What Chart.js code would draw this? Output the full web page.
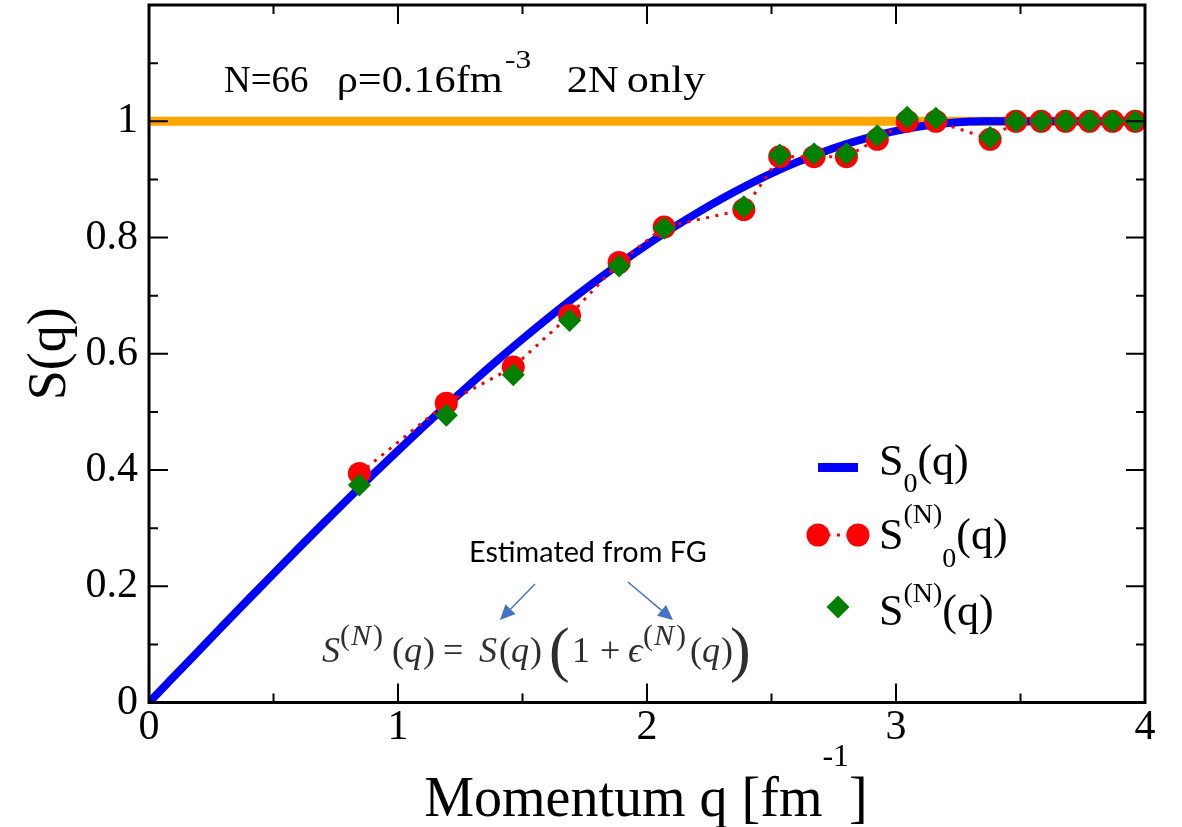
<!DOCTYPE html>
<html><head><meta charset="utf-8">
<script src="https://cdn.jsdelivr.net/npm/chart.js@4.4.1/dist/chart.umd.min.js"></script>
<style>html,body{margin:0;padding:0;background:#fff;}canvas{display:block}</style>
</head><body>
<canvas id="c" width="1182" height="827"></canvas>
<script>
// ---- data ----
const xTicks = [0, 1, 2, 3, 4];
const xTickLabels = ['0', '1', '2', '3', '4'];
const yTicks = [0, 0.2, 0.4, 0.6, 0.8, 1];
const yTickLabels = ['0', '0.2', '0.4', '0.6', '0.8', '1'];

// S0(q) continuous curve
const qCurve = [0, 0.1, 0.2, 0.3, 0.4, 0.5, 0.6, 0.7, 0.8, 0.9, 1.0, 1.1, 1.2, 1.3, 1.4, 1.5, 1.6, 1.7, 1.8, 1.9, 2.0,
  2.1, 2.2, 2.3, 2.4, 2.5, 2.6, 2.7, 2.8, 2.9, 3.0, 3.1, 3.2, 3.3, 3.36, 4.0];
const s0Curve = [0, 0.0446, 0.0892, 0.1336, 0.1778, 0.2216, 0.2651, 0.3081, 0.3505, 0.3923, 0.4334, 0.4737, 0.5131,
  0.5516, 0.5890, 0.6253, 0.6605, 0.6943, 0.7269, 0.7580, 0.7876, 0.8156, 0.8420, 0.8666, 0.8894, 0.9103, 0.9292,
  0.9460, 0.9608, 0.9733, 0.9835, 0.9913, 0.9967, 0.9996, 1.0, 1.0];

// discrete momenta
const qN = [0.845, 1.194, 1.463, 1.689, 1.888, 2.069, 2.389, 2.533, 2.671, 2.801, 2.925, 3.045, 3.160, 3.378,
  3.482, 3.583, 3.681, 3.777, 3.870, 3.961];
const s0N = [0.394, 0.515, 0.577, 0.666, 0.757, 0.818, 0.848, 0.939, 0.939, 0.939, 0.969, 1.000, 1.000, 0.969,
  1.000, 1.000, 1.000, 1.000, 1.000, 1.000];
const sN = [0.374, 0.494, 0.564, 0.657, 0.751, 0.816, 0.853, 0.942, 0.944, 0.944, 0.975, 1.007, 1.005, 0.972,
  1.000, 1.000, 1.000, 1.000, 1.000, 1.000];

// reference line S = 1
const refQ = [0, 4];
const refS = [1, 1];

// ---- styles ----
const SERIF = "'Liberation Serif','Times New Roman',serif";
const SERIF_MATH = "'Liberation Serif','DejaVu Serif',serif";
const SANS = "Lato,'Open Sans',sans-serif";
const BLUE = '#0000ff', RED = '#ff0000', GREEN = '#008000', ORANGE = '#ffa500', ARROW = '#4472c4';

function drawRich(ctx, x, y, parts, family) {
  let cx = x;
  for (const p of parts) {
    ctx.font = (p.i ? 'italic ' : '') + p.s + 'px ' + (p.f || family || SERIF);
    ctx.fillText(p.t, cx + (p.dx || 0), y + (p.dy || 0));
    cx += ctx.measureText(p.t).width + (p.dx || 0);
  }
  return cx;
}
function measureRich(ctx, parts, family) {
  let w = 0;
  for (const p of parts) {
    ctx.font = (p.i ? 'italic ' : '') + p.s + 'px ' + (p.f || family || SERIF);
    w += ctx.measureText(p.t).width;
  }
  return w;
}
// draw text stretched horizontally to a target ink width
function fitText(ctx, text, x, y, size, width) {
  ctx.font = size + 'px ' + SERIF;
  const m = ctx.measureText(text);
  const ink = m.actualBoundingBoxRight + m.actualBoundingBoxLeft;
  const sx = width / ink;
  ctx.save();
  ctx.translate(x, y);
  ctx.scale(sx, 1);
  ctx.fillText(text, m.actualBoundingBoxLeft, 0);
  ctx.restore();
}
function arrow(ctx, x1, y1, x2, y2) {
  const ang = Math.atan2(y2 - y1, x2 - x1);
  const L = 15, W = 7;
  const bx = x2 - L * Math.cos(ang), by = y2 - L * Math.sin(ang);
  ctx.beginPath();
  ctx.moveTo(x1, y1); ctx.lineTo(bx, by); ctx.stroke();
  ctx.beginPath();
  ctx.moveTo(x2, y2);
  ctx.lineTo(bx + W * Math.sin(ang), by - W * Math.cos(ang));
  ctx.lineTo(bx - W * Math.sin(ang), by + W * Math.cos(ang));
  ctx.closePath(); ctx.fill();
}

const framePlugin = {
  id: 'frame',
  afterDatasetsDraw(chart) {
    const { ctx, chartArea: a, scales: { x, y } } = chart;
    ctx.save();
    ctx.strokeStyle = '#000';
    ctx.lineWidth = 2;
    ctx.beginPath();
    for (let k = 0; k <= 8; k++) {
      const v = k * 0.5, px = x.getPixelForValue(v), L = (k % 2 === 0) ? 19 : 9;
      ctx.moveTo(px, a.bottom); ctx.lineTo(px, a.bottom - L);
      ctx.moveTo(px, a.top); ctx.lineTo(px, a.top + L);
    }
    for (let k = 0; k <= 12; k++) {
      const v = k * 0.1, py = y.getPixelForValue(v), L = (k % 2 === 0) ? 19 : 9;
      ctx.moveTo(a.left, py); ctx.lineTo(a.left + L, py);
      ctx.moveTo(a.right, py); ctx.lineTo(a.right - L, py);
    }
    ctx.stroke();
    ctx.lineWidth = 3;
    ctx.strokeRect(a.left, a.top, a.right - a.left, a.bottom - a.top);
    ctx.restore();
  }
};

const annotPlugin = {
  id: 'annot',
  afterDraw(chart) {
    const { ctx, chartArea: a } = chart;
    ctx.save();
    ctx.fillStyle = '#000';
    ctx.textBaseline = 'alphabetic';
    ctx.textAlign = 'left';

    // top label
    fitText(ctx, 'N=66', 225, 92, 37, 83);
    fitText(ctx, 'ρ=0.16fm', 339, 92, 37, 164);
    fitText(ctx, '-3', 505, 68, 26, 25);
    fitText(ctx, '2N', 568, 92, 37, 50);
    fitText(ctx, 'only', 628, 92, 37, 78);

    // x axis title with superscript
    const xt = [{ t: 'Momentum q [fm', s: 56 }, { t: '-1', s: 32, dy: -50 }, { t: ']', s: 56 }];
    const w = measureRich(ctx, xt);
    drawRich(ctx, (a.left + a.right) / 2 - w / 2 - 1, 816, xt);

    // legend
    ctx.save();
    ctx.strokeStyle = BLUE; ctx.lineWidth = 9;
    ctx.beginPath(); ctx.moveTo(818, 467.5); ctx.lineTo(858, 467.5); ctx.stroke();
    ctx.strokeStyle = RED; ctx.lineWidth = 3; ctx.setLineDash([3, 6.5]);
    ctx.beginPath(); ctx.moveTo(818, 535); ctx.lineTo(858, 535); ctx.stroke();
    ctx.setLineDash([]);
    ctx.fillStyle = RED;
    ctx.beginPath(); ctx.arc(818, 535, 11.5, 0, Math.PI * 2); ctx.fill();
    ctx.beginPath(); ctx.arc(858, 535, 11.5, 0, Math.PI * 2); ctx.fill();
    ctx.fillStyle = GREEN;
    ctx.beginPath(); ctx.moveTo(838, 595.5); ctx.lineTo(849.5, 607); ctx.lineTo(838, 618.5); ctx.lineTo(826.5, 607); ctx.closePath(); ctx.fill();
    ctx.restore();
    ctx.fillStyle = '#000';
    drawRich(ctx, 879, 475, [{ t: 'S', s: 44 }, { t: '0', s: 28, dy: 17 }, { t: '(q)', s: 44 }]);
    drawRich(ctx, 879, 549, [{ t: 'S', s: 44 }, { t: '(N)', s: 28, dy: -26 }, { t: '0', s: 28, dy: 18 }, { t: '(q)', s: 44 }]);
    drawRich(ctx, 879, 625, [{ t: 'S', s: 44 }, { t: '(N)', s: 28, dy: -23 }, { t: '(q)', s: 44 }]);

    // formula annotation
    ctx.fillStyle = '#000';
    const est = 'Estimated from FG';
    ctx.font = '24px ' + SANS;
    const ew = ctx.measureText(est).width;
    const fs = Math.min(30, 24 * 238 / ew);
    ctx.font = fs.toFixed(1) + 'px ' + SANS;
    ctx.fillText(est, 469, 562);
    ctx.strokeStyle = ARROW; ctx.fillStyle = ARROW; ctx.lineWidth = 1.5;
    arrow(ctx, 535, 584, 500, 620);
    arrow(ctx, 628, 582, 673, 620);

    ctx.fillStyle = '#2e2e2e';
    const F = SERIF_MATH;
    drawRich(ctx, 322, 662, [{ t: 'S', s: 36, i: true }], F);
    drawRich(ctx, 340, 662, [{ t: '(', s: 30, dy: -17 }, { t: 'N', s: 30, i: true, dy: -17, dx: 1 }, { t: ')', s: 30, dy: -17, dx: 2 }], F);
    drawRich(ctx, 392, 662, [{ t: '(', s: 36 }, { t: 'q', s: 36, i: true }, { t: ')', s: 36, dx: 1 }], F);
    drawRich(ctx, 443, 662, [{ t: '=', s: 36 }], F);
    drawRich(ctx, 479, 662, [{ t: 'S', s: 36, i: true }, { t: '(', s: 36, dx: 2 }, { t: 'q', s: 36, i: true }, { t: ')', s: 36, dx: 1 }], F);
    drawRich(ctx, 549, 670, [{ t: '(', s: 62 }], F);
    drawRich(ctx, 572, 662, [{ t: '1', s: 36 }], F);
    drawRich(ctx, 600, 662, [{ t: '+', s: 36 }], F);
    drawRich(ctx, 628, 662, [{ t: 'ϵ', s: 36, i: true }], F);
    drawRich(ctx, 643, 662, [{ t: '(', s: 30, dy: -17 }, { t: 'N', s: 30, i: true, dy: -17, dx: 1 }, { t: ')', s: 30, dy: -17, dx: 2 }], F);
    drawRich(ctx, 690, 662, [{ t: '(', s: 36 }, { t: 'q', s: 36, i: true }, { t: ')', s: 36, dx: 1 }], F);
    drawRich(ctx, 730, 670, [{ t: ')', s: 62 }], F);
    ctx.restore();
  }
};

const pts = (xs, ys) => xs.map((v, i) => ({ x: v, y: ys[i] }));
const zeroPad = s => { s.paddingTop = 0; s.paddingBottom = 0; s.paddingLeft = 0; s.paddingRight = 0; };

new Chart(document.getElementById('c'), {
  type: 'scatter',
  data: {
    datasets: [
      { label: 'S(N)(q)', data: pts(qN, sN), showLine: false, pointStyle: 'rectRot', pointRadius: 11.5,
        pointBackgroundColor: GREEN, pointBorderColor: GREEN, pointBorderWidth: 0, order: 0 },
      { label: 'S(N)0(q)', data: pts(qN, s0N), showLine: true, borderColor: RED, borderWidth: 3, borderDash: [3, 6.5],
        pointStyle: 'circle', pointRadius: 11.5, pointBackgroundColor: RED, pointBorderColor: RED, pointBorderWidth: 0, order: 1 },
      { label: 'S0(q)', data: pts(qCurve, s0Curve), showLine: true, borderColor: BLUE, borderWidth: 8,
        cubicInterpolationMode: 'monotone', pointRadius: 0, order: 2 },
      { label: 'S=1', data: pts(refQ, refS), showLine: true, borderColor: ORANGE, borderWidth: 9, pointRadius: 0, order: 3 }
    ]
  },
  options: {
    responsive: false, animation: false, devicePixelRatio: 1, events: [],
    layout: { autoPadding: false, padding: { top: 5, right: 37, left: 0, bottom: 0 } },
    plugins: { legend: { display: false }, tooltip: { enabled: false } },
    scales: {
      x: {
        type: 'linear', min: 0, max: 4,
        afterBuildTicks: s => { s.ticks = xTicks.map(v => ({ value: v })); },
        afterFit: s => { s.height = 124.5; zeroPad(s); },
        grid: { display: false, drawTicks: false }, border: { display: false },
        ticks: { font: { family: SERIF, size: 42 }, color: '#000', padding: 0, maxRotation: 0, autoSkip: false,
          callback: (v, i) => xTickLabels[i] }
      },
      y: {
        type: 'linear', min: 0, max: 1.2,
        afterBuildTicks: s => { s.ticks = yTicks.map(v => ({ value: v })); },
        afterFit: s => { s.width = 149; zeroPad(s); },
        grid: { display: false, drawTicks: false }, border: { display: false },
        title: { display: true, text: 'S(q)', font: { family: SERIF, size: 54 }, color: '#000', padding: { top: 18, bottom: 0 } },
        ticks: { font: { family: SERIF, size: 42 }, color: '#000', padding: 11, autoSkip: false,
          callback: (v, i) => yTickLabels[i] }
      }
    }
  },
  plugins: [framePlugin, annotPlugin]
});
</script>
</body></html>
